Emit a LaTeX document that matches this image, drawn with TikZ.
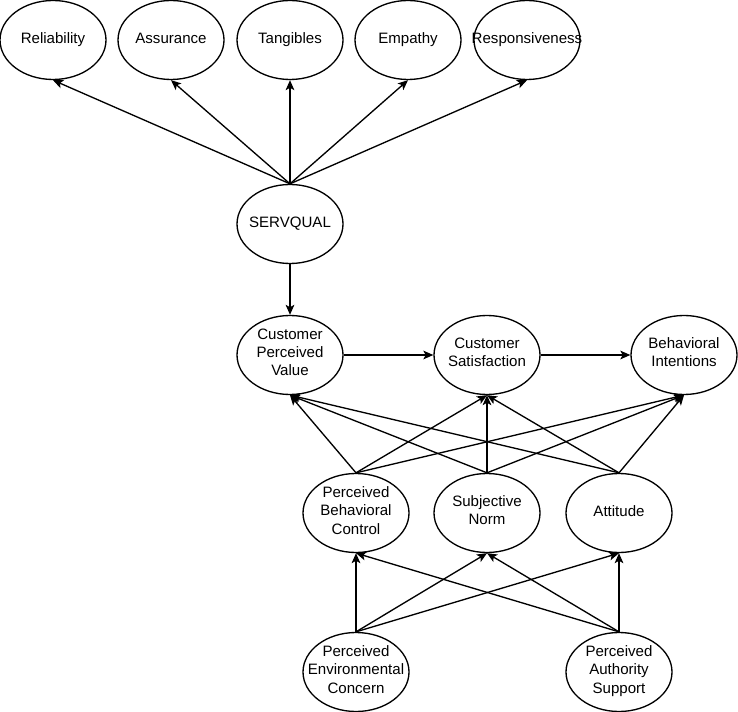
\documentclass[tikz,border=0pt]{standalone}
\usepackage{fontspec}
\setmainfont{Liberation Sans}
\usetikzlibrary{shapes.geometric, arrows.meta}
\tikzset{every picture/.style={line width=1pt}}
\tikzset{
  construct/.style={ellipse, draw, minimum width=79.5pt, minimum height=59.25pt, inner sep=-14pt, align=center, font=\fontsize{11.3pt}{13.8pt}\selectfont, execute at begin node=\strut},
  link/.style={-{Stealth[length=7.5pt, width=6.5pt, inset=1.8pt]}}
}

\begin{document}
\begin{tikzpicture}[x=0.75pt,y=0.75pt,yscale=-1,xscale=1]
\useasboundingbox (0,0) rectangle (738,712);

% SERVQUAL dimensions
\node [construct] (rel) at (53,40) {Reliability};
\node [construct] (ass) at (171,40) {Assurance};
\node [construct] (tan) at (290,40) {Tangibles};
\node [construct] (emp) at (408,40) {Empathy};
\node [construct] (res) at (527,40) {Responsiveness};
\node [construct] (sq) at (290,224) {SERVQUAL};

% Outcomes
\node [construct] (cpv) at (290,355) {Customer\\Perceived\\Value};
\node [construct] (cs) at (487,355) {Customer\\Satisfaction};
\node [construct] (bi) at (684,355) {Behavioral\\Intentions};

% TPB constructs
\node [construct] (pbc) at (356,513) {Perceived\\Behavioral\\Control};
\node [construct] (sn) at (487,513) {Subjective\\Norm};
\node [construct] (att) at (619,513) {Attitude};

% Antecedents
\node [construct] (pec) at (356,672) {Perceived\\Environmental\\Concern};
\node [construct] (pas) at (619,672) {Perceived\\Authority\\Support};

% Straight Lines
\foreach \t in {rel,ass,tan,emp,res}
  \draw [link] (sq.north) -- (\t.south);
\draw [link] (sq.south) -- (cpv.north);
\draw [link] (cpv.east) -- (cs.west);
\draw [link] (cs.east) -- (bi.west);
\foreach \s in {pbc,sn,att}
  \foreach \t in {cpv,cs,bi}
    \draw [link] (\s.north) -- (\t.south);
\foreach \s in {pec,pas}
  \foreach \t in {pbc,sn,att}
    \draw [link] (\s.north) -- (\t.south);

\end{tikzpicture}
\end{document}
